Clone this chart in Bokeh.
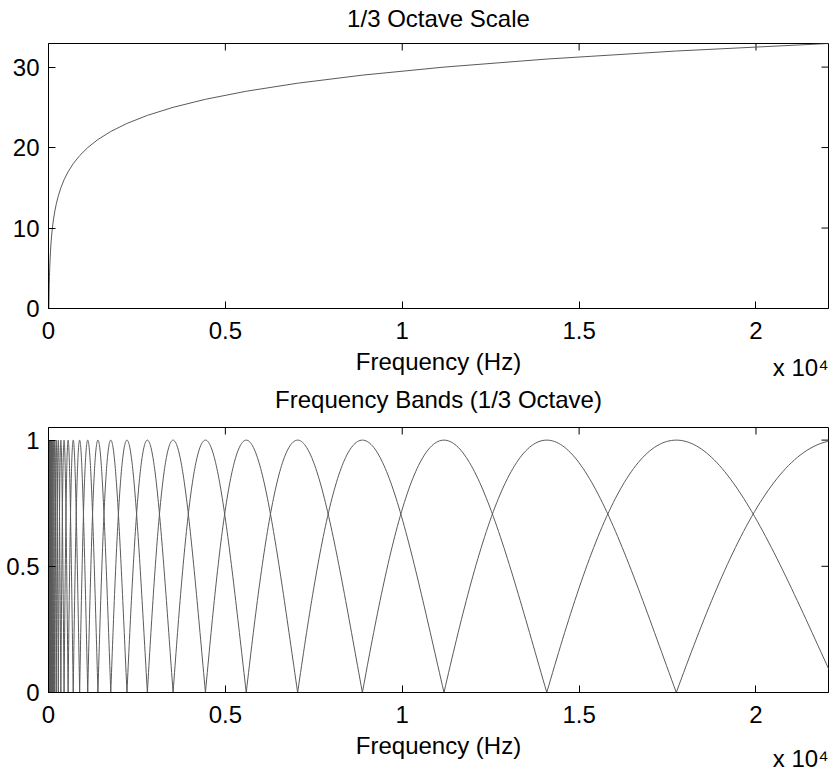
import numpy as np
from bokeh.plotting import figure
from bokeh.layouts import column
from bokeh.models import FixedTicker, LinearAxis, Range1d, Title
from bokeh.embed import file_html
from bokeh.resources import INLINE

# ---------------- data ----------------
# 1/3-octave band centre frequencies (Hz), lowest to highest
band_centers_hz = [10.9, 13.8, 17.3, 21.8, 27.5, 34.7, 43.7, 55.0, 69.3, 87.3,
                   110.1, 138.7, 174.7, 220.1, 277.3, 349.4, 440.2, 554.6, 698.8, 880.4,
                   1109.2, 1397.5, 1760.7, 2218.4, 2795.0, 3521.5, 4436.8, 5590.0, 7043.0, 8873.6,
                   11180.0, 14085.9, 17747.1, 22360.0]
# position of each band on the 1/3-octave scale
band_index = [0, 1, 2, 3, 4, 5, 6, 7, 8, 9,
              10, 11, 12, 13, 14, 15, 16, 17, 18, 19,
              20, 21, 22, 23, 24, 25, 26, 27, 28, 29,
              30, 31, 32, 33]
freq_max_hz = 22050
x_ticks = [0, 5000, 10000, 15000, 20000]
x_tick_labels = ["0", "0.5", "1", "1.5", "2"]
top_y_ticks = [0, 10, 20, 30]
top_y_tick_labels = ["0", "10", "20", "30"]
bot_y_ticks = [0, 0.5, 1]
bot_y_tick_labels = ["0", "0.5", "1"]
bot_y_max = 1.05
top_title = "1/3 Octave Scale"
bot_title = "Frequency Bands (1/3 Octave)"
x_label = "Frequency (Hz)"
x_mult = "x 10\u2074"

# ---------------- styling ----------------
FONT = "Liberation Sans"
FS = "24px"
LINE_COLOR = "#5a5a5a"
FRAME_W, FRAME_H = 780, 265
BORDER_L, BORDER_R = 48, 3
TICK_LEN = 7

top_y_max = float(np.interp(freq_max_hz, band_centers_hz, band_index))

# top curve: scale value versus frequency
scale_x = [0.0] + band_centers_hz
scale_y = [0] + band_index

# bottom: one arch per band, from neighbouring centre to neighbouring centre
log_c = np.log(band_centers_hz)
hump_xs, hump_ys = [], []
n = len(band_centers_hz)
for k in range(n):
    parts = []
    if k > 0:
        parts.append(np.geomspace(band_centers_hz[k - 1], band_centers_hz[k], 60))
    if k < n - 1:
        parts.append(np.geomspace(band_centers_hz[k], band_centers_hz[k + 1], 60)[1:])
    f = np.concatenate(parts)
    s = np.interp(np.log(f), log_c, band_index)
    hump_xs.append(f.tolist())
    hump_ys.append(np.cos(np.pi / 2 * (s - band_index[k])).tolist())


def safe_set(obj, name, val, fallback):
    try:
        setattr(obj, name, val)
    except Exception:
        setattr(obj, name, fallback)


def make_fig(y_max, y_ticks, y_labels, title, border_top, border_bottom,
             title_standoff, mult_standoff):
    p = figure(frame_width=FRAME_W, frame_height=FRAME_H,
               x_range=Range1d(0, freq_max_hz), y_range=Range1d(0, y_max),
               output_backend="svg", toolbar_location=None,
               min_border_left=BORDER_L, min_border_right=BORDER_R,
               min_border_top=border_top, min_border_bottom=border_bottom,
               background_fill_color="white", border_fill_color="white")
    p.outline_line_color = "black"
    p.outline_line_width = 1
    p.grid.visible = False

    p.xaxis.ticker = FixedTicker(ticks=x_ticks)
    p.xaxis.major_label_overrides = dict(zip(x_ticks, x_tick_labels))
    p.yaxis.ticker = FixedTicker(ticks=y_ticks)
    p.yaxis.major_label_overrides = dict(zip(y_ticks, y_labels))
    for ax in (p.xaxis[0], p.yaxis[0]):
        ax.major_tick_in = TICK_LEN
        ax.major_tick_out = 0
        ax.minor_tick_line_color = None
        ax.axis_line_color = "black"
        ax.major_tick_line_color = "black"
        ax.major_label_text_font = FONT
        ax.major_label_text_font_size = FS
        ax.major_label_text_color = "black"
    p.xaxis.major_label_standoff = 13
    p.yaxis.major_label_standoff = 9
    xa = p.xaxis[0]
    xa.axis_label = x_label
    safe_set(xa, "axis_label_standoff", 6, 6)
    xa.axis_label_text_font = FONT
    xa.axis_label_text_font_size = FS
    xa.axis_label_text_font_style = "normal"
    xa.axis_label_text_color = "black"

    # title carried by a tick-less axis above the frame
    t_ax = LinearAxis(ticker=FixedTicker(ticks=[]), axis_label=title,
                      axis_label_standoff=title_standoff,
                      axis_label_text_font=FONT, axis_label_text_font_size=FS,
                      axis_label_text_font_style="normal", axis_label_text_color="black",
                      axis_line_color=None, major_tick_in=0, major_tick_out=0,
                      minor_tick_line_color=None, major_label_standoff=0)
    p.add_layout(t_ax, "above")

    # "x 10^4" multiplier, right-aligned under the axis
    mt = Title(text=x_mult, align="right", vertical_align="top",
               text_font=FONT, text_font_size=FS, text_font_style="normal",
               text_color="black")
    safe_set(mt, "standoff", mult_standoff, 0)
    p.add_layout(mt, "below")

    # ticks mirrored on the top and right edges of the box
    dy = TICK_LEN / (FRAME_H / y_max)
    dx = TICK_LEN / (FRAME_W / freq_max_hz)
    p.segment(x0=x_ticks, y0=[y_max] * len(x_ticks), x1=x_ticks, y1=[y_max - dy] * len(x_ticks),
              line_color="black", line_width=1)
    p.segment(x0=[freq_max_hz] * len(y_ticks), y0=y_ticks,
              x1=[freq_max_hz - dx] * len(y_ticks), y1=y_ticks,
              line_color="black", line_width=1)
    return p


# ---------------- top: 1/3 octave scale ----------------
p1 = make_fig(top_y_max, top_y_ticks, top_y_tick_labels, top_title, 43, 73, 12, -47)
p1.line(scale_x, scale_y, line_color=LINE_COLOR, line_width=1)

# ---------------- bottom: frequency bands ----------------
p2 = make_fig(bot_y_max, bot_y_ticks, bot_y_tick_labels, bot_title, 46, 81, 15, -34)
p2.multi_line(hump_xs, hump_ys, line_color=LINE_COLOR, line_width=1)

layout = column(p1, p2, spacing=0)

with open("out.html", "w") as fh:
    fh.write(file_html(layout, INLINE))
